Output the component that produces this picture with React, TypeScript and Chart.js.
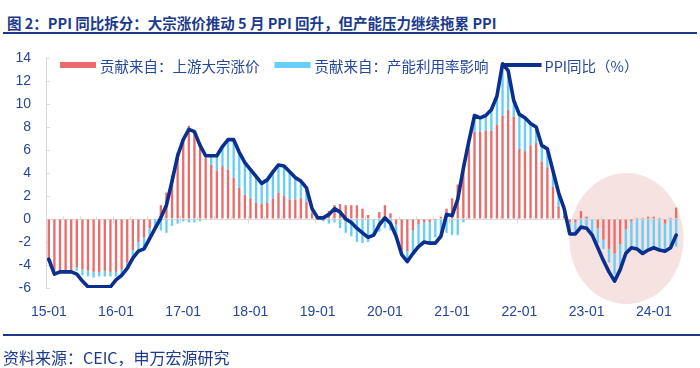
import React, { useEffect, useRef } from 'react';
import { Chart, registerables } from 'chart.js';
Chart.register(...registerables);

// Monthly categories 2015-01 .. 2024-05 (labels "YY-MM")
const months: string[] = [];
for (let y = 15; y <= 24; y++) {
  for (let m = 1; m <= 12; m++) {
    if (y === 24 && m > 5) break;
    months.push(`${y}-${String(m).padStart(2, '0')}`);
  }
}

// PPI 同比 (%)
const ppiYoY = [
  -3.5, -4.8, -4.6, -4.6, -4.6, -4.8, -5.4, -5.9, -5.9, -5.9, -5.9, -5.9,
  -5.3, -4.9, -4.3, -3.4, -2.8, -2.6, -1.7, -0.8, 0.1, 1.2, 3.3, 5.5,
  6.9, 7.8, 7.6, 6.4, 5.5, 5.5, 5.5, 6.3, 6.9, 6.9, 5.8, 4.9,
  4.3, 3.7, 3.1, 3.4, 4.1, 4.7, 4.6, 4.1, 3.6, 3.3, 2.7, 0.9,
  0.1, 0.1, 0.4, 0.9, 0.6, 0.0, -0.3, -0.8, -1.2, -1.6, -1.4, -0.5,
  0.1, -0.4, -1.5, -3.1, -3.7, -3.0, -2.4, -2.0, -2.1, -2.1, -1.5, 0.4,
  0.3, 1.7, 4.4, 6.8, 9.0, 8.8, 9.0, 9.5, 10.7, 13.5, 12.9, 10.3,
  9.1, 8.8, 8.3, 8.0, 6.4, 6.1, 4.2, 2.3, 0.9, -1.3, -1.3, -0.7,
  -0.8, -1.4, -2.5, -3.6, -4.6, -5.4, -4.4, -3.0, -2.5, -2.6, -3.0, -2.7,
  -2.5, -2.7, -2.8, -2.5, -1.4,
];

// 贡献来自：上游大宗涨价
const upstream = [
  -3.7, -4.4, -4.5, -4.5, -4.5, -4.2, -4.4, -4.5, -4.6, -4.6, -4.5, -4.6,
  -4.6, -4.4, -3.8, -2.7, -2.0, -1.6, -0.8, 0.0, 1.2, 2.3, 3.8, 5.8,
  6.9, 8.1, 7.5, 6.6, 5.3, 4.7, 4.2, 4.6, 4.3, 3.6, 2.7, 2.1,
  1.8, 1.4, 1.3, 1.4, 1.8, 2.3, 2.0, 1.7, 1.7, 1.8, 1.5, 0.5,
  0.1, 0.2, 0.7, 1.2, 1.3, 1.2, 1.2, 1.2, 0.9, 0.35, 0.05, 0.6,
  1.2, 0.5, -0.5, -2.7, -2.8, -1.0, -0.5, -0.3, -0.3, -0.1, 0.2, 0.9,
  1.8, 3.0, 4.7, 6.1, 7.6, 7.6, 7.7, 7.7, 8.2, 9.0, 9.5, 8.9,
  6.1, 5.9, 6.4, 6.6, 5.0, 4.5, 2.8, 1.1, 0.3, -0.3, -0.3, 0.7,
  0.2, 0.0, -0.8, -1.8, -2.6, -3.0, -2.2, -0.9, -0.2, 0.1, 0.1, 0.2,
  0.2, 0.1, -0.4, 0.1, 1.0,
];

// 贡献来自：产能利用率影响
const capacity = [
  0.0, -0.1, 0.0, 0.0, -0.1, -0.3, -0.5, -0.5, -0.5, -0.4, -0.5, -0.4,
  -0.4, -0.5, -0.4, -0.6, -0.8, -0.9, -0.8, -0.9, -1.0, -1.2, -0.6, -0.4,
  -0.2, -0.3, -0.3, -0.2, 0.2, 0.8, 1.3, 1.7, 2.6, 3.3, 3.1, 2.8,
  2.5, 2.3, 1.8, 2.0, 2.3, 2.4, 2.6, 2.4, 1.9, 1.5, 1.2, 0.4,
  -0.05, -0.2, -0.4, -0.3, -0.8, -1.2, -1.5, -2.0, -2.1, -2.0, -1.5, -1.1,
  -0.8, -1.0, -1.0, -0.4, -0.9, -1.8, -1.7, -1.7, -1.7, -1.5, -1.4, -1.2,
  -1.4, -1.4, -0.3, 0.7, 1.4, 1.2, 1.3, 1.8, 2.5, 4.5, 3.4, 1.4,
  3.0, 2.9, 1.9, 1.4, 1.4, 1.6, 1.4, 1.2, 0.6, -0.8, -0.8, -0.6,
  -0.9, -1.4, -1.3, -0.8, -1.2, -1.8, -1.9, -2.1, -2.4, -2.7, -3.0, -2.8,
  -2.7, -2.6, -2.4, -2.6, -2.4,
];

// Highlight ellipse (category index range / value range)
const highlightX = [92.9, 113.3];
const highlightY = [-7.4, 4.0];

const RED = '#EB6D6B';
const BLUE = '#66CEF8';
const NAVY = '#0B2F8E';
const TEXT = '#24479E';
const DARK = '#1B3A8C';
const AXIS = '#D9D9D9';
const PINK = '#F7E2E2';
const CJK = '"Noto Sans CJK SC", "Liberation Sans", sans-serif';
const NUM = '"Liberation Sans", "Noto Sans CJK SC", sans-serif';

const decor = {
  id: 'decor',
  beforeDraw(chart: any) {
    const { ctx, scales } = chart;
    const x = scales.x, y = scales.y;
    const x0 = x.getPixelForValue(highlightX[0]);
    const x1 = x.getPixelForValue(highlightX[1]);
    const y0 = y.getPixelForValue(highlightY[0]);
    const y1 = y.getPixelForValue(highlightY[1]);
    ctx.save();
    ctx.fillStyle = PINK;
    ctx.beginPath();
    ctx.ellipse((x0 + x1) / 2, (y0 + y1) / 2, Math.abs(x1 - x0) / 2, Math.abs(y1 - y0) / 2, 0, 0, Math.PI * 2);
    ctx.fill();
    ctx.restore();
  },
  beforeDatasetsDraw(chart: any) {
    const { ctx, scales, chartArea } = chart;
    const x = scales.x, y = scales.y;
    const zy = Math.round(y.getPixelForValue(0)) + 0.5;
    ctx.save();
    ctx.strokeStyle = AXIS;
    ctx.lineWidth = 1;
    ctx.beginPath();
    for (let i = 0; i < months.length - 1; i++) {
      if ((i + 1) % 3 !== 0) continue;
      const px = Math.round(x.getPixelForValue(i + 0.5)) + 0.5;
      if ((i + 1) % 12 === 0) {
        ctx.moveTo(px, zy - 3);
        ctx.lineTo(px, zy + 4);
      } else {
        ctx.moveTo(px, zy - 3);
        ctx.lineTo(px, zy);
      }
    }
    y.ticks.forEach((t: any) => {
      const py = Math.round(y.getPixelForValue(t.value)) + 0.5;
      ctx.moveTo(chartArea.left, py);
      ctx.lineTo(chartArea.left + 4, py);
    });
    ctx.stroke();
    ctx.restore();
  },
  afterDraw(chart: any) {
    const { ctx } = chart;
    const ds = chart.data.datasets;
    let lx = 60;
    const ly = 65;
    ctx.save();
    ctx.font = `14.5px ${CJK}`;
    ctx.textBaseline = 'middle';
    ds.forEach((d: any) => {
      if (d.type === 'line') {
        ctx.strokeStyle = d.borderColor;
        ctx.lineWidth = 4;
        ctx.lineCap = 'butt';
        ctx.beginPath();
        ctx.moveTo(lx, ly);
        ctx.lineTo(lx + 38, ly);
        ctx.stroke();
        lx += 41;
      } else {
        ctx.fillStyle = d.backgroundColor;
        ctx.fillRect(lx, ly - 3, 36, 6);
        lx += 40;
      }
      ctx.fillStyle = TEXT;
      ctx.fillText(d.label, lx, ly + 1);
      lx += ctx.measureText(d.label).width + 15;
    });
    ctx.restore();
  },
};

export default function App() {
  const ref = useRef<HTMLCanvasElement>(null);
  useEffect(() => {
    const chart = new Chart(ref.current as HTMLCanvasElement, {
      type: 'bar',
      data: {
        labels: months,
        datasets: [
          {
            type: 'bar',
            label: '贡献来自：上游大宗涨价',
            data: upstream,
            backgroundColor: RED,
            stack: 'contrib',
            order: 1,
            barPercentage: 0.42,
            categoryPercentage: 1,
          },
          {
            type: 'bar',
            label: '贡献来自：产能利用率影响',
            data: capacity,
            backgroundColor: BLUE,
            stack: 'contrib',
            order: 2,
            barPercentage: 0.42,
            categoryPercentage: 1,
          },
          {
            type: 'line',
            label: 'PPI同比（%）',
            data: ppiYoY,
            borderColor: NAVY,
            backgroundColor: NAVY,
            borderWidth: 3.6,
            pointRadius: 0,
            tension: 0,
            stack: 'ppi',
            order: 0,
            borderJoinStyle: 'round',
            borderCapStyle: 'round',
          } as any,
        ],
      },
      options: {
        animation: false,
        responsive: false,
        maintainAspectRatio: false,
        layout: { padding: { top: 58, right: 21, bottom: 50, left: 0 } },
        plugins: { legend: { display: false }, tooltip: { enabled: false }, title: { display: false } },
        scales: {
          x: {
            stacked: true,
            offset: true,
            grid: { display: false },
            border: { display: false },
            ticks: {
              autoSkip: false,
              maxRotation: 0,
              minRotation: 0,
              padding: 8,
              color: TEXT,
              font: { size: 14, family: NUM },
              callback: (_v: any, i: number) => (months[i].endsWith('-01') ? months[i] : ''),
            },
            afterFit: (s: any) => { s.height = 30; },
          },
          y: {
            stacked: true,
            min: -6,
            max: 14,
            ticks: { stepSize: 2, color: TEXT, font: { size: 14, family: NUM }, padding: 15 },
            grid: {
              drawTicks: false,
              color: (c: any) => (c.tick && c.tick.value === 0 ? AXIS : 'rgba(0,0,0,0)'),
              lineWidth: 1,
            },
            border: { display: true, color: AXIS, width: 1 },
            afterFit: (s: any) => { s.width = 46; },
          },
        },
      } as any,
      plugins: [decor],
    });
    return () => chart.destroy();
  }, []);

  return (
    <div style={{ position: 'absolute', left: 0, top: 0, width: 700, height: 368, background: '#fff', overflow: 'hidden' }}>
      <div style={{ position: 'absolute', left: 7, top: 13, font: `bold 14.5px ${CJK}`, lineHeight: '20px', color: DARK, whiteSpace: 'nowrap' }}>
        图 2：PPI 同比拆分：大宗涨价推动 5 月 PPI 回升，但产能压力继续拖累 PPI
      </div>
      <div style={{ position: 'absolute', left: 3, top: 32, width: 694, height: 2, background: DARK }} />
      <canvas ref={ref} width={700} height={368} style={{ position: 'absolute', left: 0, top: 0, width: 700, height: 368 }} />
      <div style={{ position: 'absolute', left: 3, top: 334, width: 697, height: 2, background: DARK }} />
      <div style={{ position: 'absolute', left: 3, top: 346, font: `16px ${CJK}`, lineHeight: '22px', color: DARK, whiteSpace: 'nowrap' }}>
        资料来源：CEIC，申万宏源研究
      </div>
    </div>
  );
}
